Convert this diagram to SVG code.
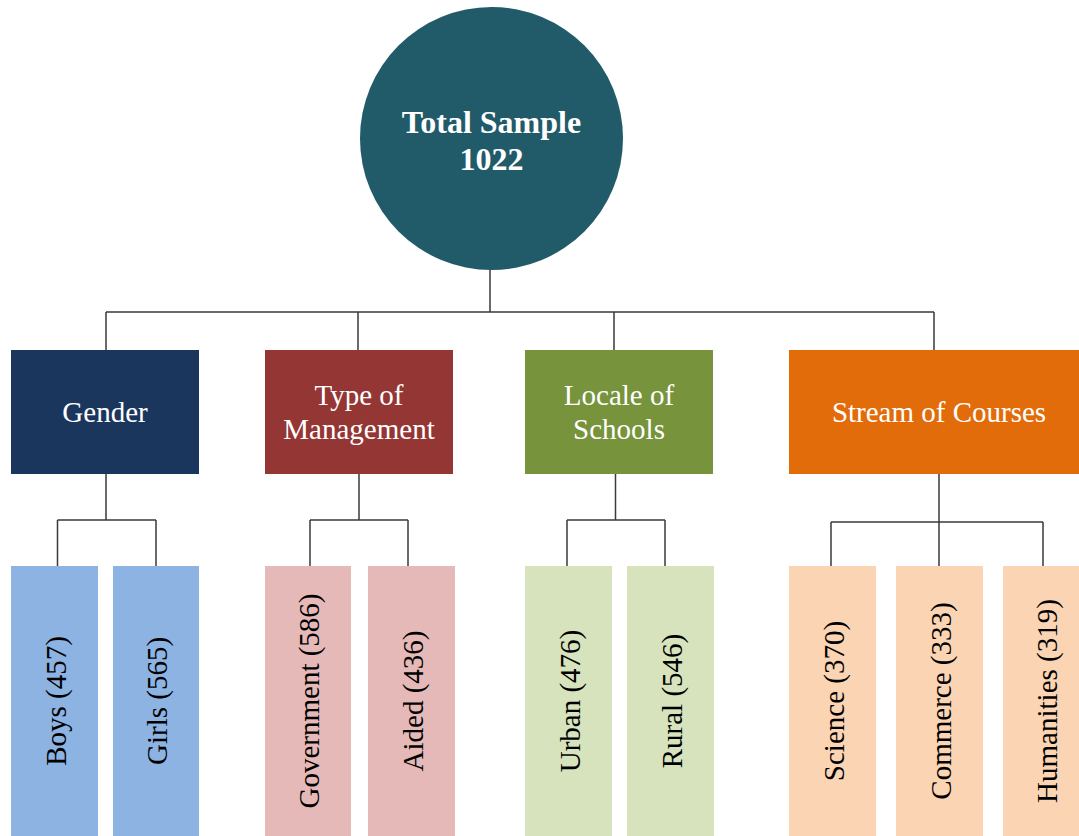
<svg xmlns="http://www.w3.org/2000/svg" width="1079" height="836" viewBox="0 0 1079 836">
<style>
.ln{fill:none;stroke:#3a3a3a;stroke-width:1.5}
.t1{font-family:"Liberation Serif","Times New Roman",serif;font-size:29px;fill:#fff;text-anchor:middle}
.t0{font-family:"Liberation Serif","Times New Roman",serif;font-size:32px;font-weight:bold;fill:#fff;text-anchor:middle}
.t2{font-family:"Liberation Serif","Times New Roman",serif;font-size:29px;fill:#000;text-anchor:middle}
</style>
<rect width="1079" height="836" fill="#fff"/>
<g id="connectors">
<path class="ln" d="M490 270V312M106 312H934M106 312V350M358 312V350M614 312V350M934 312V350"/>
<path class="ln" d="M106 474V520M57.5 520H156M57.5 520V566M156 520V566"/>
<path class="ln" d="M359 474V520M310 520H408M310 520V566M408 520V566"/>
<path class="ln" d="M615.5 474V520M567 520H665M567 520V566M665 520V566"/>
<path class="ln" d="M939 474V566M831 522H1043M831 522V566M1043 522V566"/>
</g>
<g id="root">
<circle cx="491.5" cy="138.5" r="131.5" fill="#215B69"/>
<text class="t0" x="491.5" y="133">Total Sample</text>
<text class="t0" x="491.5" y="170">1022</text>
</g>
<g id="gender">
<rect x="11" y="350" width="188" height="124" fill="#1B365D"/>
<text class="t1" x="105" y="422">Gender</text>
</g>
<g id="management">
<rect x="265" y="350" width="188" height="124" fill="#943634"/>
<text class="t1" x="359" y="405">Type of</text>
<text class="t1" x="359" y="439">Management</text>
</g>
<g id="locale">
<rect x="525" y="350" width="188" height="124" fill="#77933C"/>
<text class="t1" x="619" y="405">Locale of</text>
<text class="t1" x="619" y="439">Schools</text>
</g>
<g id="stream">
<rect x="789" y="350" width="300" height="124" fill="#E36C0A"/>
<text class="t1" x="939" y="422">Stream of Courses</text>
</g>
<g id="boys"><rect x="11" y="566" width="87" height="280" fill="#8DB3E2"/><text class="t2" transform="translate(54.5 701) rotate(-90)" dy="0.38em">Boys (457)</text></g>
<g id="girls"><rect x="113" y="566" width="86" height="280" fill="#8DB3E2"/><text class="t2" transform="translate(156 701) rotate(-90)" dy="0.38em">Girls (565)</text></g>
<g id="government"><rect x="265" y="566" width="86" height="280" fill="#E5B9B7"/><text class="t2" transform="translate(308 701) rotate(-90)" dy="0.38em">Government (586)</text></g>
<g id="aided"><rect x="368" y="566" width="87" height="280" fill="#E5B9B7"/><text class="t2" transform="translate(411.5 701) rotate(-90)" dy="0.38em">Aided (436)</text></g>
<g id="urban"><rect x="525" y="566" width="87" height="280" fill="#D6E3BC"/><text class="t2" transform="translate(568.5 701) rotate(-90)" dy="0.38em">Urban (476)</text></g>
<g id="rural"><rect x="627" y="566" width="87" height="280" fill="#D6E3BC"/><text class="t2" transform="translate(670.5 701) rotate(-90)" dy="0.38em">Rural (546)</text></g>
<g id="science"><rect x="789" y="566" width="87" height="280" fill="#FBD4B4"/><text class="t2" transform="translate(832.5 701) rotate(-90)" dy="0.38em">Science (370)</text></g>
<g id="commerce"><rect x="896" y="566" width="87" height="280" fill="#FBD4B4"/><text class="t2" transform="translate(939.5 701) rotate(-90)" dy="0.38em">Commerce (333)</text></g>
<g id="humanities"><rect x="1003" y="566" width="87" height="280" fill="#FBD4B4"/><text class="t2" transform="translate(1046 701) rotate(-90)" dy="0.38em">Humanities (319)</text></g>
</svg>
